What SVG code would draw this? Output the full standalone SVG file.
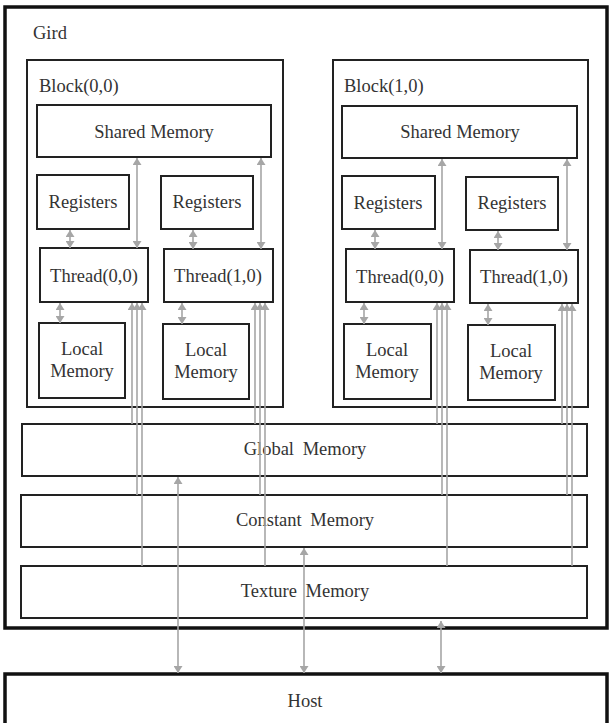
<svg xmlns="http://www.w3.org/2000/svg" width="610" height="723" viewBox="0 0 610 723">
<defs>
<style>
.outer{fill:#fff;stroke:#111;stroke-width:3.5}
.box{fill:#fff;stroke:#222;stroke-width:2}
.t{font-family:"Liberation Serif","Times New Roman",serif;font-size:18.5px;fill:#333}
.m{text-anchor:middle}
.c{stroke:#a6a6a6;stroke-width:1.6;fill:none}
.b{marker-start:url(#ah);marker-end:url(#ah)}
.s{marker-start:url(#ah)}
</style>
<marker id="ah" viewBox="0 0 7 9" refX="7" refY="4.5" markerWidth="7" markerHeight="9" markerUnits="userSpaceOnUse" orient="auto-start-reverse">
<path d="M0,0 L7,4.5 L0,9 Z" fill="#a6a6a6"/>
</marker>
</defs>
<rect width="610" height="723" fill="#fff"/>
<g id="grid">
<rect class="outer" x="5" y="7" width="602" height="621"/>
<text class="t" x="33" y="39">Gird</text>
</g>
<g id="host">
<rect class="outer" x="5" y="674" width="602" height="70"/>
<text class="t m" x="305" y="707">Host</text>
</g>
<g id="block00">
<rect class="box" x="27" y="60" width="256" height="347"/>
<text class="t" x="39" y="92">Block(0,0)</text>
</g>
<g id="block10">
<rect class="box" x="333" y="60" width="255" height="347"/>
<text class="t" x="344" y="92">Block(1,0)</text>
</g>
<g id="shared0">
<rect class="box" x="37" y="105" width="234" height="52"/>
<text class="t m" x="154" y="138">Shared Memory</text>
</g>
<g id="shared1">
<rect class="box" x="342" y="106" width="235" height="52"/>
<text class="t m" x="460" y="138">Shared Memory</text>
</g>
<g id="reg00">
<rect class="box" x="37" y="175" width="92" height="54"/>
<text class="t m" x="83" y="208">Registers</text>
</g>
<g id="reg01">
<rect class="box" x="161" y="176" width="92" height="53"/>
<text class="t m" x="207" y="208">Registers</text>
</g>
<g id="reg10">
<rect class="box" x="342" y="176" width="93" height="53"/>
<text class="t m" x="388" y="209">Registers</text>
</g>
<g id="reg11">
<rect class="box" x="466" y="177" width="92" height="53"/>
<text class="t m" x="512" y="209">Registers</text>
</g>
<g id="thread00">
<rect class="box" x="40" y="248" width="108" height="54"/>
<text class="t m" x="94" y="282">Thread(0,0)</text>
</g>
<g id="thread01">
<rect class="box" x="164" y="249" width="109" height="53"/>
<text class="t m" x="218" y="282">Thread(1,0)</text>
</g>
<g id="thread10">
<rect class="box" x="346" y="249" width="108" height="53"/>
<text class="t m" x="400" y="283">Thread(0,0)</text>
</g>
<g id="thread11">
<rect class="box" x="470" y="250" width="108" height="53"/>
<text class="t m" x="524" y="283">Thread(1,0)</text>
</g>
<g id="local00">
<rect class="box" x="39" y="323" width="86" height="75"/>
<text class="t m" x="82" y="355">Local</text>
<text class="t m" x="82" y="377">Memory</text>
</g>
<g id="local01">
<rect class="box" x="163" y="324" width="86" height="75"/>
<text class="t m" x="206" y="356">Local</text>
<text class="t m" x="206" y="378">Memory</text>
</g>
<g id="local10">
<rect class="box" x="344" y="324" width="87" height="75"/>
<text class="t m" x="387" y="356">Local</text>
<text class="t m" x="387" y="378">Memory</text>
</g>
<g id="local11">
<rect class="box" x="468" y="325" width="87" height="75"/>
<text class="t m" x="511" y="357">Local</text>
<text class="t m" x="511" y="379">Memory</text>
</g>
<g id="global">
<rect class="box" x="22" y="424" width="565" height="52"/>
<text class="t m" x="305" y="455" word-spacing="4">Global Memory</text>
</g>
<g id="constant">
<rect class="box" x="21" y="495" width="566" height="52"/>
<text class="t m" x="305" y="526" word-spacing="4">Constant Memory</text>
</g>
<g id="texture">
<rect class="box" x="21" y="566" width="566" height="52"/>
<text class="t m" x="305" y="597" word-spacing="4">Texture Memory</text>
</g>
<g id="connectors">
<line class="c b" x1="137" y1="158" x2="137" y2="248"/>
<line class="c b" x1="261" y1="158" x2="261" y2="249"/>
<line class="c b" x1="70" y1="230" x2="70" y2="248"/>
<line class="c b" x1="193" y1="230" x2="193" y2="249"/>
<line class="c b" x1="60" y1="303" x2="60" y2="323"/>
<line class="c b" x1="182" y1="303" x2="182" y2="324"/>
<line class="c s" x1="132" y1="303" x2="132" y2="424"/>
<line class="c s" x1="137" y1="303" x2="137" y2="495"/>
<line class="c s" x1="142" y1="303" x2="142" y2="566"/>
<line class="c s" x1="255" y1="303" x2="255" y2="424"/>
<line class="c s" x1="260" y1="303" x2="260" y2="495"/>
<line class="c s" x1="265" y1="303" x2="265" y2="566"/>
<line class="c b" x1="442" y1="159" x2="442" y2="249"/>
<line class="c b" x1="567" y1="159" x2="567" y2="250"/>
<line class="c b" x1="375" y1="230" x2="375" y2="249"/>
<line class="c b" x1="498" y1="231" x2="498" y2="250"/>
<line class="c b" x1="364" y1="303" x2="364" y2="324"/>
<line class="c b" x1="488" y1="304" x2="488" y2="325"/>
<line class="c s" x1="437" y1="303" x2="437" y2="424"/>
<line class="c s" x1="442" y1="303" x2="442" y2="495"/>
<line class="c s" x1="447" y1="303" x2="447" y2="566"/>
<line class="c s" x1="562" y1="304" x2="562" y2="424"/>
<line class="c s" x1="567" y1="304" x2="567" y2="495"/>
<line class="c s" x1="572" y1="304" x2="572" y2="566"/>
<line class="c b" x1="178" y1="477" x2="178" y2="673"/>
<line class="c b" x1="304" y1="548" x2="304" y2="673"/>
<line class="c b" x1="441" y1="621" x2="441" y2="673"/>
</g>
</svg>
